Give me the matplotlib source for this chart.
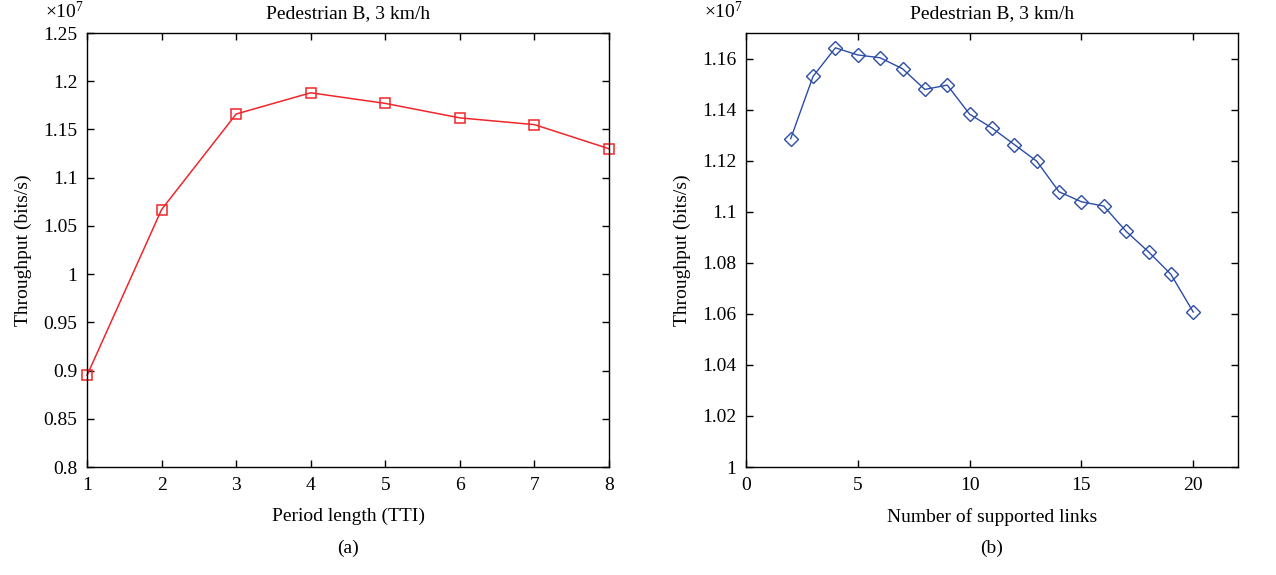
import numpy as np
import matplotlib

matplotlib.use('Agg')
import matplotlib.pyplot as plt
from matplotlib.ticker import FuncFormatter

# values are in units of 1e7 bits/s
period_len = [1, 2, 3, 4, 5, 6, 7, 8]
thr_period = [0.895, 1.067, 1.166, 1.188, 1.177, 1.162, 1.155, 1.130]

n_links = [2, 3, 4, 5, 6, 7, 8, 9, 10, 11, 12, 13, 14, 15, 16, 17, 18, 19, 20]
thr_links = [1.1286, 1.1530, 1.1642, 1.1614, 1.1603, 1.1560, 1.1479, 1.1496,
             1.1382, 1.1328, 1.1263, 1.1198, 1.1078, 1.1039, 1.1022, 1.0923,
             1.0843, 1.0755, 1.0607]

TITLE = "Pedestrian B, 3 km/h"
RED = '#f0262b'
BLUE = '#2c4ca6'
FS = 14

plt.rcParams['font.family'] = ['Liberation Serif', 'DejaVu Serif']
plt.rcParams['mathtext.fontset'] = 'custom'
plt.rcParams['mathtext.rm'] = 'Liberation Serif'
plt.rcParams['mathtext.it'] = 'Liberation Serif:italic'
plt.rcParams['font.size'] = FS

fig = plt.figure(figsize=(12.76, 5.75), dpi=100)
ax1 = fig.add_axes([0.0682, 0.1878, 0.4091, 0.7548])
ax2 = fig.add_axes([0.5846, 0.1878, 0.3856, 0.7548])

fmt = FuncFormatter(lambda v, p: '%g' % round(v, 4))


def style(ax):
    ax.tick_params(direction='in', top=True, right=True, length=5, width=1,
                   labelsize=FS, pad=7)
    for s in ax.spines.values():
        s.set_linewidth(1.0)
    ax.yaxis.set_major_formatter(fmt)
    ax.xaxis.set_major_formatter(fmt)
    ax.set_title(TITLE, fontsize=FS, pad=11)
    ax.text(-0.005, 1.025, r'$\times10^{7}$', transform=ax.transAxes,
            ha='right', va='bottom', fontsize=FS)


ax1.plot(period_len, thr_period, color=RED, lw=1.1, marker='s', ms=7.5,
         mfc='none', mec=RED, mew=1.1, clip_on=False)
ax1.set_xlim(1, 8)
ax1.set_ylim(0.8, 1.25)
ax1.set_xticks(range(1, 9))
ax1.set_yticks(np.arange(0.8, 1.2501, 0.05))
ax1.set_xlabel('Period length (TTI)', fontsize=FS, labelpad=10)
ax1.set_ylabel('Throughput (bits/s)', fontsize=FS, labelpad=8)
style(ax1)
ax1.text(0.5, -0.187, '(a)', transform=ax1.transAxes, ha='center',
         va='center', fontsize=FS)

ax2.plot(n_links, thr_links, color=BLUE, lw=1.0, marker='D', ms=7.5,
         mfc='none', mec=BLUE, mew=1.0)
ax2.set_xlim(0, 22)
ax2.set_ylim(1.0, 1.17)
ax2.set_xticks([0, 5, 10, 15, 20])
ax2.set_yticks(np.arange(1.0, 1.1601, 0.02))
ax2.set_xlabel('Number of supported links', fontsize=FS, labelpad=10)
ax2.set_ylabel('Throughput (bits/s)', fontsize=FS, labelpad=8)
style(ax2)
ax2.text(0.5, -0.187, '(b)', transform=ax2.transAxes, ha='center',
         va='center', fontsize=FS)

fig.savefig('out.png', dpi=100)
